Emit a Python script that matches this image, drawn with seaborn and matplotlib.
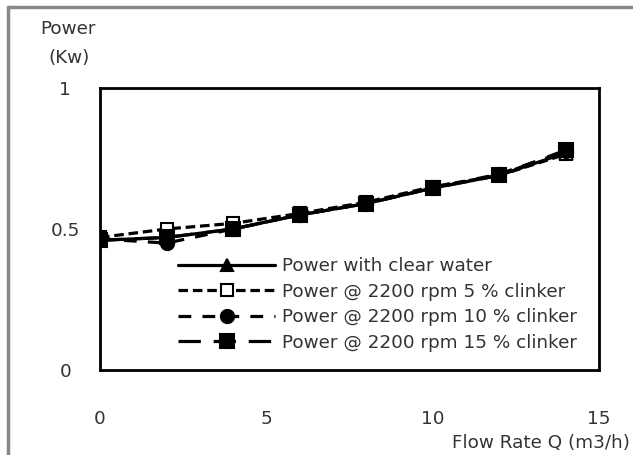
import matplotlib
matplotlib.use("Agg")
import matplotlib.pyplot as plt
import seaborn as sns
import pandas as pd
from matplotlib.lines import Line2D

flow = [0, 2, 4, 6, 8, 10, 12, 14]
clear_water = [0.46, 0.47, 0.50, 0.55, 0.59, 0.645, 0.69, 0.77]
clinker_5 = [0.47, 0.50, 0.52, 0.555, 0.595, 0.65, 0.69, 0.765]
clinker_10 = [0.465, 0.45, 0.50, 0.55, 0.59, 0.645, 0.695, 0.775]
clinker_15 = [0.46, 0.47, 0.50, 0.55, 0.59, 0.645, 0.69, 0.78]
labels = ["Power with clear water", "Power @ 2200 rpm 5 % clinker",
          "Power @ 2200 rpm 10 % clinker", "Power @ 2200 rpm 15 % clinker"]
x_ticks = [0, 5, 10, 15]
y_ticks = [0, 0.5, 1]
y_ticklabels = ["0", "0.5", "1"]

sns.set_theme(style="white")
plt.rcParams['font.family'] = ['DejaVu Sans']
FS = 13.2
TXT = "#333333"

fig = plt.figure(figsize=(6.33, 4.55), dpi=100)
ax = fig.add_axes([100/633, (455-370)/455, (599-100)/633, (370-88)/455])

series = [clear_water, clinker_5, clinker_10, clinker_15]
styles = [
    dict(linestyle="-", marker="^", markerfacecolor="black", markersize=9),
    dict(linestyle=(0, (3, 1.5)), marker="s", markerfacecolor="white", markersize=8.5),
    dict(linestyle=(0, (4, 3.5)), marker="o", markerfacecolor="black", markersize=9.5),
    dict(linestyle=(0, (7, 4)), marker="s", markerfacecolor="black", markersize=10.5),
]
for vals, lab, st in zip(series, labels, styles):
    df = pd.DataFrame({"Flow": flow, "Power": vals})
    sns.lineplot(data=df, x="Flow", y="Power", ax=ax, color="black",
                 linewidth=2.3, markeredgecolor="black", markeredgewidth=1.5,
                 label=lab, **st)

ax.set_xlim(0, 15)
ax.set_ylim(0, 1)
ax.set_xticks(x_ticks)
ax.set_xticklabels([str(t) for t in x_ticks])
ax.set_yticks(y_ticks)
ax.set_yticklabels(y_ticklabels, ha="center")
ax.tick_params(axis="both", length=0, labelsize=FS, colors=TXT)
ax.tick_params(axis="x", pad=29)
ax.tick_params(axis="y", pad=25)
ax.set_xlabel("")
ax.set_ylabel("")
for sp in ax.spines.values():
    sp.set_color("black")
    sp.set_linewidth(2)

leg = ax.legend(loc="upper left", bbox_to_anchor=(78/499, (370-257)/282), frameon=False,
                fontsize=FS, handlelength=5.3, handletextpad=0.4,
                labelspacing=0.41, borderaxespad=0, borderpad=0)
for t in leg.get_texts():
    t.set_color(TXT)

fig.text(68/633, 1 - 29/455, "Power", ha="center", va="center", fontsize=FS, color=TXT)
fig.text(69/633, 1 - 58/455, "(Kw)", ha="center", va="center", fontsize=FS, color=TXT)
fig.text(630/633, 1 - 443/455, "Flow Rate Q (m3/h)", ha="right", va="center", fontsize=FS, color=TXT)

fig.add_artist(Line2D([8/633, 8/633], [0, 1 - 7/455], transform=fig.transFigure, color="#888888", linewidth=2.5))
fig.add_artist(Line2D([8/633, 1], [1 - 7/455, 1 - 7/455], transform=fig.transFigure, color="#888888", linewidth=2.5))

fig.savefig("out.png", dpi=100)
